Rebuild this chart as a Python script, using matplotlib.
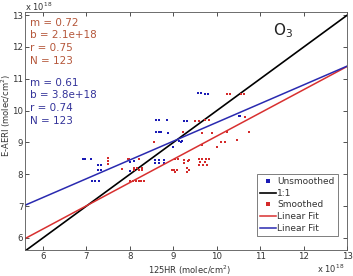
import matplotlib
matplotlib.use("Agg")
import matplotlib.pyplot as plt
import numpy as np

# Data (units of 1e18 molec/cm^2)
unsm_x = [6.92, 6.98, 7.10, 7.26, 7.33, 7.26, 7.33, 7.14, 7.21, 7.30,
          8.00, 8.10, 8.00, 8.59, 8.68, 8.79,
          8.59, 8.68, 8.79, 9.00, 9.14, 9.20,
          9.57, 9.64, 9.73, 9.80, 8.61, 8.68, 8.86,
          8.61, 8.68, 8.72, 8.88, 9.25, 9.32, 10.50, 10.54, 9.18]
unsm_y = [8.47, 8.47, 8.49, 8.29, 8.29, 8.14, 8.14, 7.80, 7.80, 7.78,
          8.40, 8.43, 8.10, 8.45, 8.45, 8.45,
          8.35, 8.35, 8.35, 8.86, 9.05, 9.05,
          10.55, 10.55, 10.53, 10.52, 9.70, 9.70, 9.70,
          9.32, 9.32, 9.32, 9.30, 9.67, 9.67, 9.84, 9.84, 9.02]

sm_x = [10.23, 10.30, 10.55, 10.62,
        9.50, 9.60, 9.73, 9.82, 10.65,
        9.23, 9.66, 9.89, 10.23, 10.74,
        8.56, 10.10, 10.19, 10.46, 10.00, 9.66,
        7.49, 7.95, 7.99, 8.22, 9.04, 9.10, 9.25, 9.36, 9.60, 9.66, 9.75, 9.82,
        7.49, 9.34, 9.62, 9.72,
        7.49, 9.60, 9.68, 9.78, 9.25,
        7.83, 8.10, 8.17, 8.29, 9.32,
        8.10, 8.22, 8.29, 8.97, 9.02, 9.09, 9.36,
        9.04, 9.32,
        8.00, 8.07, 8.14, 8.20, 8.26, 8.33]
sm_y = [10.52, 10.52, 10.52, 10.52,
        9.67, 9.67, 9.69, 9.69, 9.80,
        9.33, 9.30, 9.30, 9.33, 9.33,
        9.02, 9.02, 9.00, 9.08, 8.87, 8.93,
        8.50, 8.47, 8.47, 8.47, 8.47, 8.47, 8.45, 8.45, 8.48, 8.48, 8.47, 8.47,
        8.41, 8.41, 8.40, 8.40,
        8.32, 8.30, 8.30, 8.30, 8.35,
        8.17, 8.20, 8.20, 8.20, 8.20,
        8.14, 8.14, 8.14, 8.14, 8.14, 8.12, 8.14,
        8.08, 8.08,
        7.80, 7.80, 7.80, 7.80, 7.80, 7.80]

# Fit lines (slope, intercept) as drawn
fit_sm = (0.73, 1.90)
fit_unsm = (0.59, 3.73)

xticks = [6, 7, 8, 9, 10, 11, 12, 13]
yticks = [6, 7, 8, 9, 10, 11, 12, 13]
xlim = (5.6, 13.0)
ylim = (5.63, 13.1)

blue_pt = '#1a1ab5'
red_pt = '#d42a2a'
blue_ln = '#2a2ab0'
red_ln = '#d83030'

fig = plt.figure(figsize=(3.53, 2.76), dpi=100)
ax = fig.add_axes([0.072, 0.095, 0.912, 0.862])

xx = np.array(xlim)
l0, = ax.plot(unsm_x, unsm_y, 's', color=blue_pt, markersize=1.8, mew=0, label='Unsmoothed')
l1, = ax.plot(xx, xx, '-', color='black', lw=1.2, label='1:1')
l2, = ax.plot(sm_x, sm_y, 's', color=red_pt, markersize=1.8, mew=0, label='Smoothed')
l3, = ax.plot(xx, fit_sm[0] * xx + fit_sm[1], '-', color=red_ln, lw=1.1, label='Linear Fit')
l4, = ax.plot(xx, fit_unsm[0] * xx + fit_unsm[1], '-', color=blue_ln, lw=1.1, label='Linear Fit')

ax.set_xlim(*xlim)
ax.set_ylim(*ylim)
ax.set_xticks(xticks)
ax.set_yticks(yticks)
ax.tick_params(direction='in', length=3, width=0.6, labelsize=6.2, colors='#333333',
               top=True, right=True, pad=1.5)
for s in ax.spines.values():
    s.set_linewidth(0.6)
    s.set_color('#555555')

fig.text(190 / 353, 1 - 270 / 276, '125HR (molec/cm$^2$)', fontsize=6, color='#333333',
         ha='center', va='center')
fig.text(6.5 / 353, 1 - 115 / 276, 'E-AERI (molec/cm$^2$)', fontsize=6, color='#333333',
         ha='center', va='center', rotation=90)

fig.text(0.07, 0.975, r'x 10$^{18}$', fontsize=6, color='#333333', ha='left', va='center')
fig.text(0.975, 0.025, r'x 10$^{18}$', fontsize=6, color='#333333', ha='right', va='center')

ax.text(0.8, 0.92, 'O$_3$', transform=ax.transAxes, fontsize=11, ha='center', va='center', color='#222222')

brown = '#b5573a'
navy = '#33339a'
top_lines = ['m = 0.72', 'b = 2.1e+18', 'r = 0.75', 'N = 123']
bot_lines = ['m = 0.61', 'b = 3.8e+18', 'r = 0.74', 'N = 123']
y0 = 1 - 23 / 276
for i, t in enumerate(top_lines):
    fig.text(30 / 353, y0 - i * 12.5 / 276, t, fontsize=7.5, color=brown, va='center')
y1 = 1 - 83 / 276
for i, t in enumerate(bot_lines):
    fig.text(30 / 353, y1 - i * 12.5 / 276, t, fontsize=7.5, color=navy, va='center')

leg = ax.legend(handles=[l0, l1, l2, l3, l4], loc='lower right',
                bbox_to_anchor=(0.97, 0.058), fontsize=6.5, frameon=True, fancybox=False,
                edgecolor='#444444', handlelength=1.8, handletextpad=0.1,
                borderpad=0.35, labelspacing=0.3, markerscale=1.4, borderaxespad=0)
leg.get_frame().set_linewidth(0.6)
for t in leg.get_texts():
    t.set_color('#333333')

fig.savefig('out.png', dpi=100)
